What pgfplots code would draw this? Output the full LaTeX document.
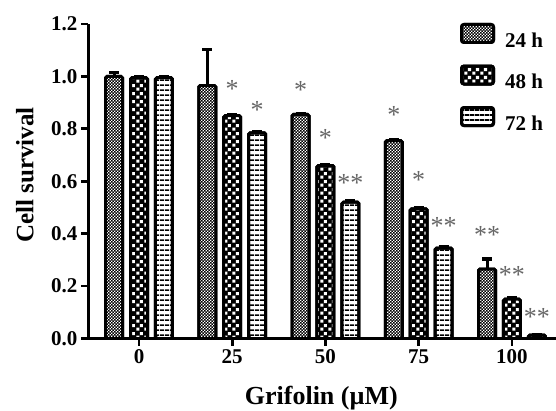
\documentclass[border=0pt]{standalone}
\usepackage{pgfplots}
\pgfplotsset{compat=1.18}
\usepackage{fontspec}
\setmainfont{Liberation Serif}
\usetikzlibrary{patterns}

\pgfdeclarepatternformonly{finecheck}{\pgfpointorigin}{\pgfqpoint{3.4bp}{3.4bp}}{\pgfqpoint{3.4bp}{3.4bp}}{%
 \pgfpathrectangle{\pgfqpoint{0.15bp}{0.15bp}}{\pgfqpoint{1.4bp}{1.4bp}}%
 \pgfpathrectangle{\pgfqpoint{1.85bp}{1.85bp}}{\pgfqpoint{1.4bp}{1.4bp}}%
 \pgfusepath{fill}}
\pgfdeclarepatternformonly{bigcheck}{\pgfpointorigin}{\pgfqpoint{8bp}{8bp}}{\pgfqpoint{8bp}{8bp}}{%
 \pgfpathrectangle{\pgfqpoint{0.3bp}{0.3bp}}{\pgfqpoint{3.4bp}{3.4bp}}%
 \pgfpathrectangle{\pgfqpoint{4.3bp}{4.3bp}}{\pgfqpoint{3.4bp}{3.4bp}}%
 \pgfusepath{fill}}
\pgfdeclarepatternformonly{hstripes}{\pgfpointorigin}{\pgfqpoint{5bp}{5bp}}{\pgfqpoint{5bp}{5bp}}{%
 \pgfpathrectangle{\pgfpointorigin}{\pgfqpoint{5bp}{2bp}}\pgfusepath{fill}}

\pgfplotsset{
  mybar/.style={ybar, bar width=17bp, bar shift=0pt, draw=black, line width=3bp, rounded corners=1.5bp,
    error bars/.cd, y dir=plus, y explicit,
    error bar style={line width=3bp, black, rounded corners=0pt},
    error mark options={rotate=90, mark size=5bp, line width=3.5bp, black},
    /pgfplots/.cd,
    legend image code/.code={\draw[##1, rounded corners=2.5bp] (0bp,-2bp) rectangle (32bp,16bp);}},
}

\begin{document}
\begin{tikzpicture}
\useasboundingbox (-88.5bp,-72.5bp) rectangle (467.5bp,338.5bp);
\begin{axis}[
  at={(0,0)}, anchor=south west,
  scale only axis, width=467.5bp, height=314.5bp,
  xmin=-0.5416, xmax=4.472, ymin=0, ymax=1.2,
  axis lines=left, axis line style={line width=2.8bp, -},
  xtick={0,1,2,3,4}, xticklabels={0,25,50,75,100},
  ytick={0,0.2,0.4,0.6,0.8,1.0,1.2},
  tick align=outside, major tick length=7bp,
  tick style={line width=2.8bp, black},
  /pgf/number format/assume math mode=true,
  yticklabel style={font=\fontsize{21bp}{21bp}\selectfont\bfseries, inner sep=0pt, anchor=east, xshift=-4bp,
    /pgf/number format/fixed, /pgf/number format/fixed zerofill, /pgf/number format/precision=1},
  xticklabel style={font=\fontsize{21bp}{21bp}\selectfont\bfseries, inner sep=0pt, anchor=north, yshift=-4bp},
  xlabel={Grifolin (µM)}, ylabel={Cell survival},
  every axis x label/.style={at={(axis description cs:0.498,-0.2114)}, anchor=base, font=\fontsize{26bp}{26bp}\selectfont\bfseries},
  every axis y label/.style={at={(axis description cs:-0.118,0.52)}, anchor=base, rotate=90, font=\fontsize{25bp}{25bp}\selectfont\bfseries},
  legend style={draw=none, fill=none, at={(axis description cs:0.7947,1.0032)}, anchor=north west,
    font=\fontsize{21bp}{21bp}\selectfont\bfseries, inner sep=0pt, outer sep=0pt,
    nodes={inner sep=0pt}, row sep=16bp, column sep=10bp},
  legend cell align=left,
]
% 24 h (bars left of each group centre)
\addplot[mybar, preaction={fill=black}, pattern=finecheck, pattern color=white]
  coordinates {(-0.268,1.0) +- (0,0.015) (0.732,0.965) +- (0,0.138) (1.732,0.855) +- (0,0.004) (2.732,0.755) +- (0,0.004) (3.732,0.265) +- (0,0.038)};
% 48 h
\addplot[mybar, preaction={fill=black}, pattern=bigcheck, pattern color=white]
  coordinates {(0,0.995) +- (0,0.004) (1,0.85) +- (0,0.004) (2,0.66) +- (0,0.004) (3,0.495) +- (0,0.004) (4,0.15) +- (0,0.004)};
% 72 h
\addplot[mybar, preaction={fill=white}, pattern=hstripes, pattern color=black]
  coordinates {(0.268,0.995) +- (0,0.004) (1.268,0.785) +- (0,0.004) (2.268,0.52) +- (0,0.004) (3.268,0.345) +- (0,0.004) (4.268,0.013) +- (0,0)};
\legend{24 h, 48 h, 72 h}
\addplot[sharp plot, draw=none, mark=none, forget plot, nodes near coords={\pgfplotspointmeta},
  point meta=explicit symbolic,
  every node near coord/.append style={anchor=center, font=\fontsize{26bp}{26bp}\selectfont, text=black!60, inner sep=0pt, yshift=-3bp}]
  coordinates {(1,0.964)[*] (1.268,0.884)[*] (1.732,0.96)[*] (2,0.777)[*] (2.268,0.605)[**]
    (2.732,0.865)[*] (3,0.616)[*] (3.268,0.44)[**] (3.732,0.407)[**] (4,0.254)[**] (4.268,0.093)[**]};
\end{axis}
\end{tikzpicture}
\end{document}
